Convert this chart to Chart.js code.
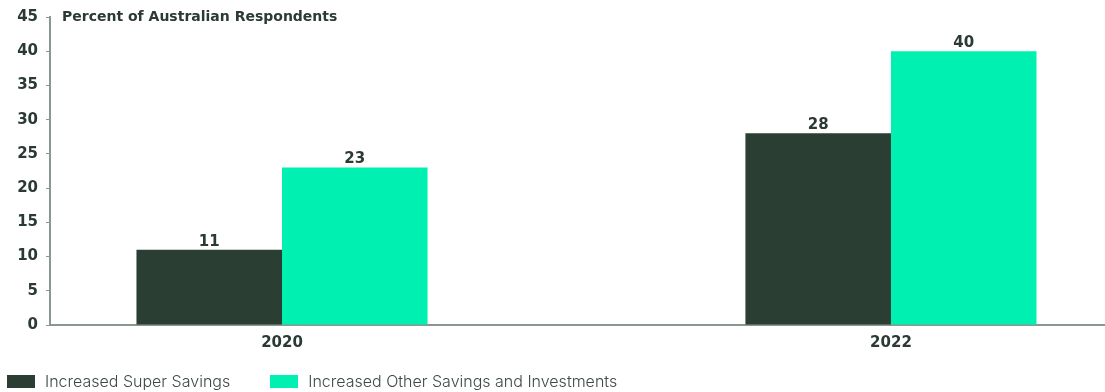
<!DOCTYPE html>
<html>
<head>
<meta charset="utf-8">
<script src="https://cdn.jsdelivr.net/npm/chart.js@4/dist/chart.umd.min.js"></script>
<style>
  html, body { margin: 0; padding: 0; background: #fff; overflow: hidden; }
  #wrap { position: relative; width: 1105px; height: 392px; }
  #legend {
    position: absolute; left: 7px; top: 371px;
    display: flex; align-items: center;
    font: 300 16px Inter, "Liberation Sans", sans-serif; color: #3d4a43;
  }
  #legend .item { display: flex; align-items: center; margin-right: 40px; }
  #legend .swatch { width: 28px; height: 13px; margin-right: 10px; }
</style>
</head>
<body>
<div id="wrap">
  <canvas id="savingsChart" width="1105" height="392"></canvas>
  <div id="legend"></div>
</div>
<script>
// Survey data
const years = [2020, 2022];
const superSavings = [11, 28];
const otherSavings = [23, 40];
const seriesNames = ['Increased Super Savings', 'Increased Other Savings and Investments'];
const axisTitle = 'Percent of Australian Respondents';

const darkGreen = '#2a3e33';
const mint = '#00f0b2';
const textColor = '#2b3a32';
const axisColor = '#8b9890';
const boldFont = '"DejaVu Sans", sans-serif';

// Axis caption at the top left of the plot
const captionPlugin = {
    id: 'caption',
    afterDraw(chart) {
        const { ctx, chartArea } = chart;
        ctx.save();
        ctx.font = 'bold 14px ' + boldFont;
        ctx.fillStyle = textColor;
        ctx.textAlign = 'left';
        ctx.textBaseline = 'middle';
        ctx.fillText(axisTitle, chartArea.left + 12, chartArea.top);
        ctx.restore();
    }
};

// Value labels above each bar
const valueLabels = {
    id: 'valueLabels',
    afterDatasetsDraw(chart) {
        const ctx = chart.ctx;
        ctx.save();
        ctx.font = 'bold 15px ' + boldFont;
        ctx.fillStyle = textColor;
        ctx.textAlign = 'center';
        ctx.textBaseline = 'middle';
        chart.data.datasets.forEach((ds, i) => {
            chart.getDatasetMeta(i).data.forEach((bar, j) => {
                ctx.fillText(ds.data[j].y, bar.x, bar.y - 8);
            });
        });
        ctx.restore();
    }
};

const toPoints = values => years.map((yr, i) => ({ x: yr, y: values[i] }));

const chart = new Chart(document.getElementById('savingsChart'), {
    type: 'bar',
    data: {
        datasets: [{
            label: seriesNames[0],
            data: toPoints(superSavings),
            backgroundColor: darkGreen
        }, {
            label: seriesNames[1],
            data: toPoints(otherSavings),
            backgroundColor: mint
        }]
    },
    options: {
        responsive: false,
        animation: false,
        categoryPercentage: 0.478,
        barPercentage: 1,
        layout: { padding: { top: 17, left: 0, right: 0, bottom: 0 } },
        scales: {
            x: {
                type: 'linear',
                min: 2019.238,
                max: 2022.703,
                offset: false,
                afterBuildTicks: scale => {
                    scale.ticks = years.map(v => ({ value: v }));
                },
                afterFit: scale => { scale.height = 67; },
                grid: { display: false },
                border: { display: true, color: axisColor, width: 2 },
                ticks: {
                    color: textColor,
                    padding: 1,
                    callback: v => String(v),
                    font: { family: boldFont, size: 15, weight: 'bold' }
                }
            },
            y: {
                min: 0,
                max: 45,
                afterFit: scale => { scale.width = 50; },
                grid: { drawOnChartArea: false, tickLength: 4, color: axisColor },
                border: { display: true, color: axisColor, width: 2 },
                ticks: {
                    stepSize: 5,
                    color: textColor,
                    padding: 8,
                    font: { family: boldFont, size: 15, weight: 'bold' }
                }
            }
        },
        plugins: {
            legend: { display: false },
            tooltip: { enabled: false }
        }
    },
    plugins: [captionPlugin, valueLabels]
});

// Legend built from the chart's datasets
const legendEl = document.getElementById('legend');
chart.data.datasets.forEach(ds => {
    const item = document.createElement('div');
    item.className = 'item';
    const swatch = document.createElement('span');
    swatch.className = 'swatch';
    swatch.style.background = ds.backgroundColor;
    const label = document.createElement('span');
    label.textContent = ds.label;
    item.appendChild(swatch);
    item.appendChild(label);
    legendEl.appendChild(item);
});
</script>
</body>
</html>
